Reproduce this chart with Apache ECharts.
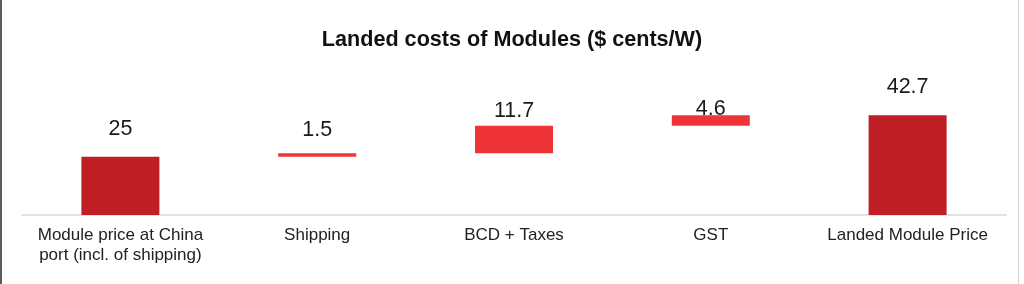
<!DOCTYPE html>
<html>
<head>
<meta charset="utf-8">
<script src="https://cdn.jsdelivr.net/npm/echarts@6/dist/echarts.min.js"></script>
<style>
html,body{margin:0;padding:0;background:#fff;}
#c{width:1024px;height:284px;}
</style>
</head>
<body>
<div id="c"></div>
<script>
// Data
var categories = ['Module price at China\nport (incl. of shipping)', 'Shipping', 'BCD + Taxes', 'GST', 'Landed Module Price'];
var values = [25, 1.5, 11.7, 4.6, 42.7];
var isTotal = [true, false, false, false, true];
var titleText = 'Landed costs of Modules ($ cents/W)';

// Waterfall bases computed from the values
var bases = [];
var running = 0;
for (var i = 0; i < values.length; i++) {
  if (isTotal[i]) { bases.push(0); running = values[i]; }
  else { bases.push(running); running += values[i]; }
}

var labelGap = [17, 12, 4, -5, 17];
var darkRed = '#BE1E24';
var lightRed = '#EE3437';

var chart = echarts.init(document.getElementById('c'), null, {renderer: 'canvas'});
chart.setOption({
  animation: false,
  title: {
    text: titleText,
    left: 'center',
    top: 24,
    textStyle: {fontFamily: 'Liberation Sans, Arial, sans-serif', fontSize: 21.6, fontWeight: 'bold', color: '#111'}
  },
  grid: {left: 22, right: 18, top: 75, bottom: 69},
  xAxis: {
    type: 'category',
    data: categories,
    axisLine: {lineStyle: {color: '#e2e2e2', width: 2}},
    axisTick: {show: false},
    axisLabel: {interval: 0, margin: 10, fontFamily: 'Liberation Sans, Arial, sans-serif', fontSize: 17, lineHeight: 20, color: '#222'}
  },
  yAxis: {type: 'value', min: 0, max: 60, show: false, splitLine: {show: false}},
  graphic: [
    {type: 'rect', shape: {x: 0, y: 0, width: 2, height: 284}, style: {fill: '#5c5c5c'}},
    {type: 'rect', shape: {x: 1018, y: 0, width: 1, height: 284}, style: {fill: '#d0d0d0'}}
  ],
  series: [
    {
      type: 'bar', stack: 'w', barWidth: 78, silent: true,
      itemStyle: {color: 'transparent'},
      data: bases
    },
    {
      type: 'bar', stack: 'w', barWidth: 78,
      data: values.map(function (v, i) {
        return {
          value: v,
          itemStyle: {color: isTotal[i] ? darkRed : lightRed},
          label: {distance: labelGap[i]}
        };
      }),
      label: {
        show: true, position: 'top',
        fontFamily: 'Liberation Sans, Arial, sans-serif', fontSize: 21.5, color: '#1a1a1a'
      }
    }
  ]
});
</script>
</body>
</html>
